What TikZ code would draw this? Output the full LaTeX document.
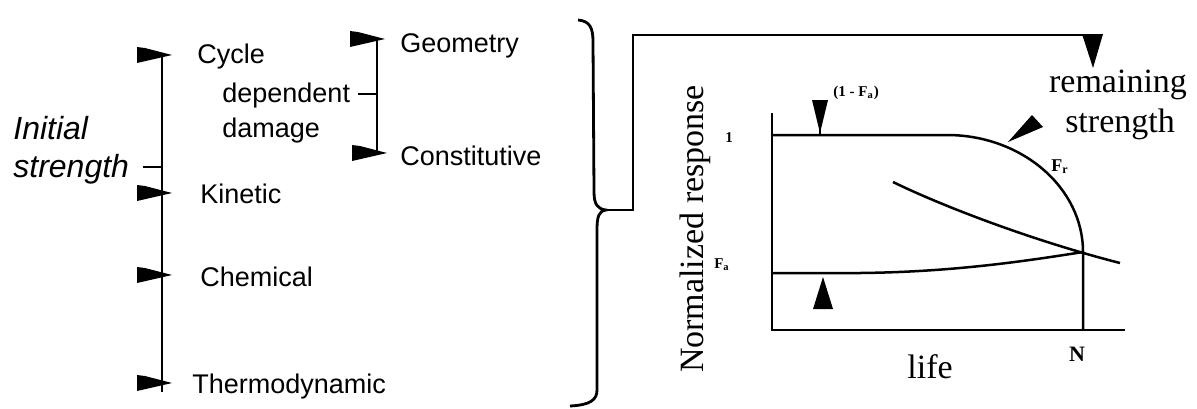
\documentclass[tikz,border=0pt]{standalone}
\usepackage{fontspec}
\setmainfont{Liberation Serif}
\setsansfont{Liberation Sans}
\begin{document}
\begin{tikzpicture}[x=0.5pt,y=-0.5pt,
  thick line/.style={line width=1.4pt},
  plotline/.style={line width=1.25pt},
  lab/.style={inner sep=0pt, font=\sffamily\fontsize{13.5}{16}\selectfont, anchor=base west},
  serif/.style={inner sep=0pt, font=\fontsize{17}{19}\selectfont},
  small/.style={inner sep=0pt, font=\bfseries\fontsize{7.5}{9}\selectfont},
  flagpic/.pic={\fill (0,-8) -- (8,-7) -- (35,0) -- (0,8) -- cycle;}
]
\useasboundingbox (0,0) rectangle (1197,408);

% ---------- left texts ----------
\node[inner sep=0pt, align=left, anchor=west,
      font=\sffamily\itshape\fontsize{16}{19}\selectfont] (init) at (13,150) {Initial\\strength};
\node[lab] (cycle)  at (197,63)  {Cycle};
\node[lab] (dep)    at (222,102) {dependent};
\node[lab] (dam)    at (222,137) {damage};
\node[lab] (kin)    at (200,203) {Kinetic};
\node[lab] (chem)   at (200,286) {Chemical};
\node[lab] (thermo) at (192,393) {Thermodynamic};
\node[lab] (geo)    at (400,52)  {Geometry};
\node[lab] (const)  at (400,165) {Constitutive};

% ---------- main bar ----------
\coordinate (mtop) at (162,55);
\coordinate (mbot) at (162,392);
\draw[thick line] (mtop) -- (mbot);
\coordinate (tick) at (143,167);
\draw[thick line] (tick) -- (tick -| mtop);
\pic at (137,55)  {flagpic};
\pic at (137,193) {flagpic};
\pic at (137,275) {flagpic};
\pic at (137,383) {flagpic};

% ---------- sub bar ----------
\coordinate (stop) at (377,38);
\coordinate (sbot) at (377,152);
\draw[thick line] (stop) -- (sbot);
\coordinate (dtick) at (358,94);
\draw[thick line] (dtick) -- (dtick -| stop);
\pic at (350,39)  {flagpic};
\pic at (352,153) {flagpic};

% ---------- big brace ----------
\draw[thick line] (578,20) .. controls (590,21) and (593,28) .. (593,42)
  -- (594,192) .. controls (594,205) and (598,209) .. (606,210) coordinate (tip)
  .. controls (599,211) and (597,216) .. (597,230)
  -- (597,390) .. controls (597,400) and (590,405) .. (570,406);

% ---------- connector to remaining strength ----------
\coordinate (corner) at (633,35);
\coordinate (rend) at (1100,35);
\draw[thick line] (tip) -| (corner) -- (rend);
\fill (1082,34) -- (1103,34) -- (1093,68) -- cycle;

\node[serif, anchor=base] (rem) at (1118,92)  {remaining};
\node[serif, anchor=base] (str) at (1120,132) {strength};
\fill (1008,142) -- (1032,115) -- (1043,127) -- cycle;

% ---------- plot ----------
\coordinate (ytop) at (772,113);
\coordinate (O) at (772,330);
\coordinate (xend) at (1125,330);
\draw[plotline] (ytop) -- (O) -- (xend);
\draw[plotline] (772,135) -- (947,135) .. controls (1021.5,135) and (1083,187.4) .. (1083,252) -- (1083,330);
\draw[plotline] (772,273) -- (860,273) .. controls (950,272) and (1020,262) .. (1083,252);
\draw[plotline] (893,182) .. controls (940,205) and (1030,240) .. (1120,263);

\fill (812,100) -- (828,100) -- (820,133) -- cycle;
\draw[plotline] (820,128) -- (820,135);
\fill (823,277) -- (833,309) -- (813,309) -- cycle;

\node[serif, rotate=90, anchor=base] (ylab) at (703,229) {Normalized response};
\node[serif, anchor=base] (life) at (930,378) {life};
\node[inner sep=0pt, font=\bfseries\fontsize{11}{13}\selectfont] (N) at (1077,354) {N};
\node[small] (one) at (729,138) {1};
\node[small, anchor=west] (ofa) at (833,93) {(1 - F\textsubscript{a})};
\node[small] (fa) at (722,265) {F\textsubscript{a}};
\node[inner sep=0pt, font=\bfseries\fontsize{9}{11}\selectfont] (fr) at (1060,167) {F\textsubscript{r}};
\end{tikzpicture}
\end{document}
